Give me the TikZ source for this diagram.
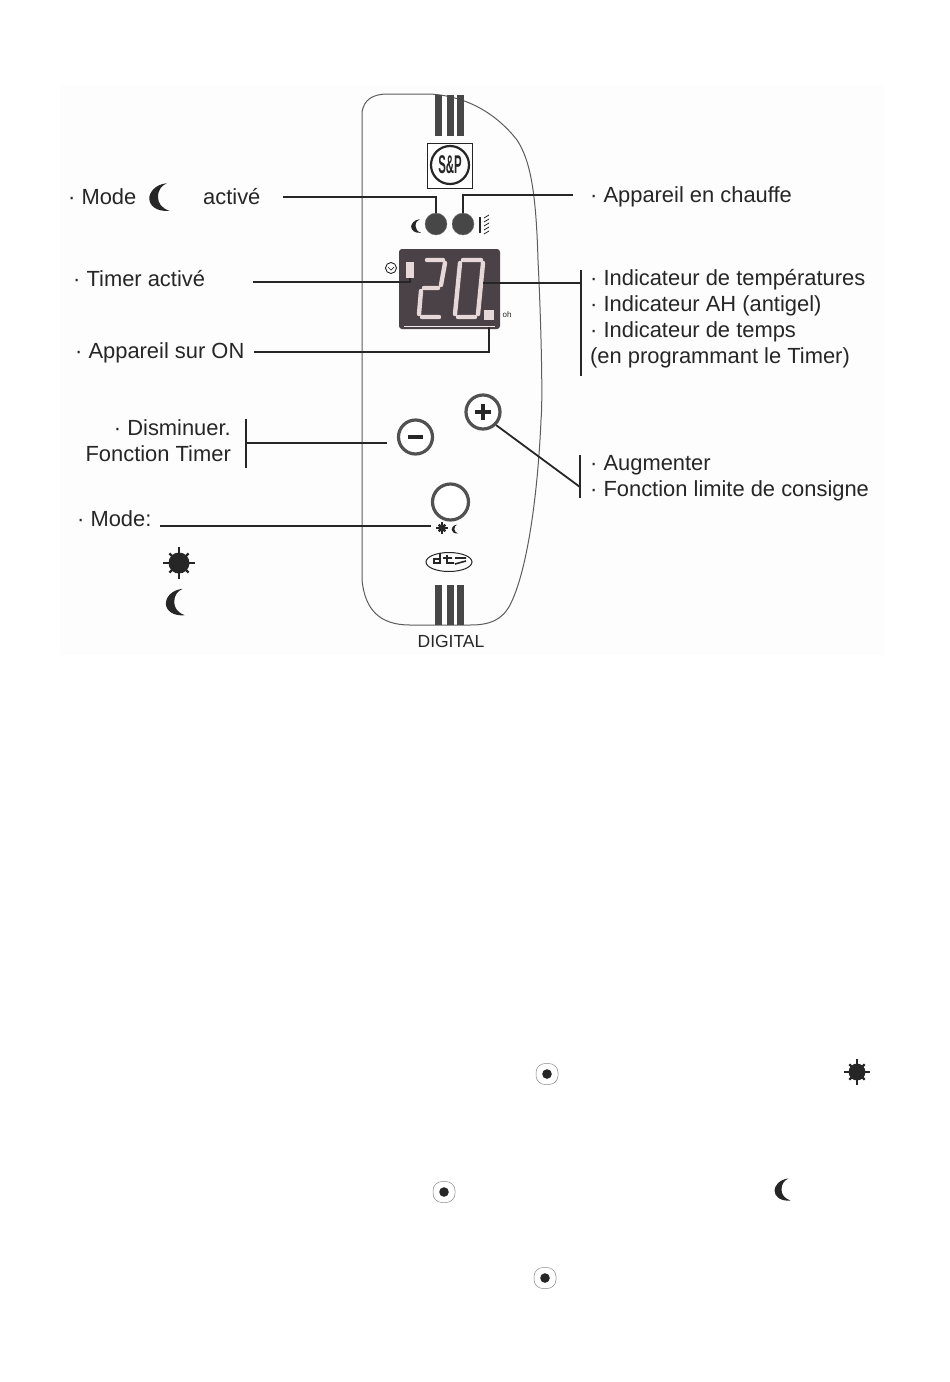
\documentclass[tikz,border=0pt]{standalone}
\usepackage{fontspec}
\usetikzlibrary{shapes.geometric}
\setmainfont{Liberation Sans}
\definecolor{ink}{HTML}{262626}
\definecolor{seg}{HTML}{E6D8D8}
\definecolor{panel}{HTML}{4A4246}
\tikzset{
 lbl/.style={anchor=base west,inner sep=0pt,text=ink,font=\fontsize{21.9}{24}\selectfont},
 lblr/.style={anchor=base east,inner sep=0pt,text=ink,font=\fontsize{21.9}{24}\selectfont},
 wire/.style={draw=ink,line width=2.4pt},
 thin wire/.style={draw=ink,line width=1.8pt},
 knob/.style={circle,draw=ink!80,fill=white,line width=3.2pt,minimum size=#1,inner sep=0pt},
 led/.style={circle,fill=ink!85,draw=ink!60,minimum size=22pt,inner sep=0pt},
 stripe/.style={fill=ink!85},
 segm/.style={draw=seg,line width=4.4pt,line cap=round},
 pics/moon/.style={code={\fill[ink] (3,-11) .. controls (-7,-10) and (-11,-3) .. (-11,1) .. controls (-11,7) and (-5,12) .. (5,11) .. controls (-1,9) and (-4,5) .. (-4,0) .. controls (-4,-6) and (-1,-9) .. (3,-11) -- cycle;}},
 pics/sun/.style={code={\fill[ink] (0,0) circle (10.5);
   \foreach \a/\l in {0/16,45/13.5,90/16,135/13.5,180/16,225/13.5,270/16,315/13.5}{\draw[ink,line width=2.4pt] (\a:8) -- (\a:\l);}}},
 pics/target/.style={code={\draw[ink!55,line width=.5pt,rounded corners=9pt] (-11,-10.5) rectangle (11,10.5); \fill[ink] (0,0) circle (4.8);}}
}
\begin{document}
\begin{tikzpicture}[x=1pt,y=-1pt]
\useasboundingbox (0,0) rectangle (950,1382);
\fill[black!0.7] (60,85) rectangle (885,655);
% panel outline
\draw[ink!75,line width=1pt] (362,112) .. controls (364,100) and (372,94) .. (388,94) -- (430,94)
 .. controls (465,96) and (495,112) .. (517,140) .. controls (530,160) and (536,190) .. (538,260)
 .. controls (541,320) and (543,400) .. (541,420) .. controls (538,490) and (528,570) .. (510,605)
 .. controls (502,620) and (490,625) .. (470,625) -- (410,625)
 .. controls (380,625) and (365,610) .. (362,580) -- cycle;
% stripes
\foreach \xa/\w in {435/7,447/7,457/7}{
 \fill[stripe] (\xa,95) rectangle ++(\w,41);
 \fill[stripe] (\xa,585) rectangle ++(\w,40);
}
% logo
\node[draw=ink,line width=1pt,fill=white,minimum width=45pt,minimum height=45pt,inner sep=0pt] (logobox) at (450,165.5) {};
\node[circle,draw=ink,line width=2.2pt,minimum size=38pt,inner sep=0pt,text=ink,font=\bfseries\fontsize{19}{19}\selectfont] (logo) at (450,165) {\scalebox{.6}[1.35]{S\&P}};
% LEDs
\node[led] (ledm) at (436,224) {};
\node[led] (ledh) at (463,224) {};
\pic[scale=.62] at (418,226) {moon};
\draw[ink,line width=1.6pt] (480,217) -- (480,233);
\draw[ink,line width=.8pt] (484,218) -- (489,215) (484,222) -- (489,219) (484,226) -- (489,223) (484,230) -- (489,227) (484,234) -- (489,231);
% display
\node[fill=panel,rounded corners=3pt,minimum width=101pt,minimum height=80pt,inner sep=0pt] (disp) at (449.5,289) {};
\draw[seg!60,line width=1pt] (404,326) -- (495,326);
\draw[segm] (427,260) -- (443,260) (445,263) -- (441,285) (438,288) -- (424,288) (421,291) -- (419,314) (422,317) -- (439,317);
\draw[segm] (463,260) -- (481,260) (483,263) -- (478,314) (475,317) -- (458,317) (455,314) -- (460,263);
\node[fill=seg,minimum width=8pt,minimum height=16pt,inner sep=0pt] (tdot) at (410,270) {};
\node[fill=seg,minimum width=10pt,minimum height=10pt,inner sep=0pt] (ondot) at (489,315) {};
\node[circle,draw=ink,line width=.9pt,minimum size=11pt,inner sep=0pt] (clock) at (391,268) {};
\draw[ink,line width=.7pt] (388,267) -- (391,270) -- (394,267);
\node[inner sep=0pt,text=ink,font=\fontsize{8}{8}\selectfont] (onlbl) at (507,315) {oh};
% knobs
\node[knob=34pt] (minus) at (415.5,437) {};
\draw[ink,line width=3.4pt] (408,437) -- (423,437);
\node[knob=34pt] (plus) at (483,412) {};
\draw[ink,line width=3.4pt] (475,412) -- (491,412) (483,404) -- (483,420);
\node[knob=36pt] (mode) at (450.5,502) {};
\pic[scale=.35] at (442,528) {sun};
\pic[scale=.4] at (456,529) {moon};
% dts logo
\node[ellipse,draw=ink,line width=1pt,minimum width=46pt,minimum height=19pt,inner sep=0pt] (dts) at (449,562) {};
\draw[ink,line width=1.6pt] (434,559) -- (440,559) -- (440,563) -- (434,563) -- cycle (440,553) -- (440,563) (447,555) -- (447,563) -- (454,563) (443,558) -- (452,558) (455,558) -- (466,558) (455,564) -- (466,561);
\node[inner sep=0pt,text=ink,font=\fontsize{17.5}{18}\selectfont] (digital) at (451,641) {DIGITAL};
% labels left
\node[lbl] (tmode) at (68,204) {· Mode};
\pic[scale=1.25] at (163,197) {moon};
\node[lbl] (tactive) at (203,204) {activé};
\node[lbl] (ttimer) at (73,286) {· Timer activé};
\node[lbl] (ton) at (75,358) {· Appareil sur ON};
\node[lblr] (tdis) at (231,435) {· Disminuer.};
\node[lblr] (tfct) at (231,461) {Fonction Timer};
\node[lbl] (tmd) at (77,526) {· Mode:};
\pic at (179,563) {sun};
\pic[scale=1.2] at (179,602) {moon};
% labels right
\node[lbl] (tchauffe) at (590,202) {· Appareil en chauffe};
\node[lbl] (ti1) at (590,285) {· Indicateur de températures};
\node[lbl] (ti2) at (590,311) {· Indicateur AH (antigel)};
\node[lbl] (ti3) at (590,337) {· Indicateur de temps};
\node[lbl] (ti4) at (590,363) {(en programmant le Timer)};
\node[lbl] (taug) at (590,470) {· Augmenter};
\node[lbl] (tlim) at (590,496) {· Fonction limite de consigne};
% coordinates
\coordinate (a1) at (283,197);
\coordinate (a2) at (573,195);
\coordinate (a3) at (253,282);
\coordinate (a4) at (254,352);
\coordinate (b1t) at (581,270);
\coordinate (b1b) at (581,376);
\coordinate (b1m) at (581,283);
\coordinate (b2t) at (246,419);
\coordinate (b2b) at (246,468);
\coordinate (b2m) at (246,443);
\coordinate (b2e) at (387,443);
\coordinate (b3t) at (580,455);
\coordinate (b3b) at (580,498);
\coordinate (b3m) at (580,487);
\coordinate (a5) at (160,526);
\coordinate (a5e) at (431,526);
\coordinate (segmid) at (483,283);
\coordinate (onend) at (489,327);
% connectors
\draw[wire] (a1) -| (ledm.north);
\draw[wire] (a2) -| (ledh.north);
\draw[wire] (a3) -| (tdot.south);
\draw[wire] (a4) -| (onend);
\draw[wire] (segmid) -- (b1m);
\draw[wire] (b1t) -- (b1b);
\draw[wire] (b2t) -- (b2b);
\draw[thin wire] (b2m) -- (b2e);
\draw[wire] (b3t) -- (b3b);
\draw[thin wire] (plus.south east) -- (b3m);
\draw[thin wire] (a5) -- (a5e);
% bottom symbols
\pic at (547,1074) {target};
\pic at (444,1192) {target};
\pic at (545,1278) {target};
\pic[scale=.8] at (857,1072) {sun};
\pic at (785.5,1189.5) {moon};
\end{tikzpicture}
\end{document}
